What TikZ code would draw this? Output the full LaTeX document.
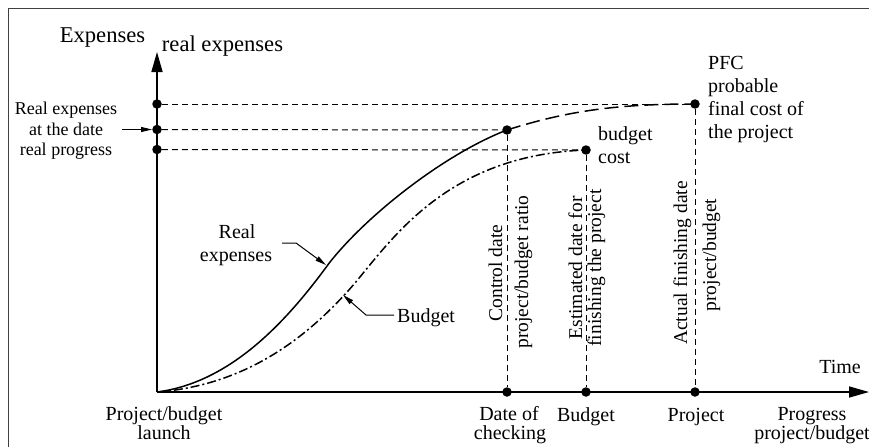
\documentclass[tikz,border=0pt]{standalone}
\usepackage{fontspec}
\setmainfont{Liberation Serif}
\usetikzlibrary{arrows.meta}
\begin{document}
\begin{tikzpicture}[x=1pt,y=-1pt,
  lbl/.style={inner sep=0pt, anchor=base, font=\fontsize{20}{24}\selectfont},
  lbls/.style={lbl, font=\fontsize{18}{22}\selectfont},
  lblt/.style={lbl, font=\fontsize{22.6}{26}\selectfont},
  rlbl/.style={lbl, rotate=90, font=\fontsize{19.5}{23}\selectfont},
  dot/.style={circle, fill, inner sep=0pt, minimum size=9.5pt},
  guide/.style={dash pattern=on 6pt off 4pt, line width=1pt},
  axis/.style={line width=1.6pt, -{Triangle[length=20pt,width=11pt]}},
  leader/.style={line width=1pt, -{Triangle[length=11pt,width=5pt]}},
  realcurve/.style={line width=1.5pt},
  realdash/.style={line width=1.5pt, dash pattern=on 14pt off 6pt},
  budgetcurve/.style={line width=1.5pt, dash pattern=on 9pt off 3pt on 2pt off 3pt},
  frame/.style={line width=1.5pt, black!75}
]
\useasboundingbox (0,0) rectangle (869,447);
\draw[frame] (8.5,447) -- (8.5,8.5) -- (869,8.5);

% axes
\coordinate (O) at (157,392);
\coordinate (ytop) at (157,52);
\coordinate (xend) at (869,392);
\draw[axis] (O) -- (ytop);
\draw[axis] (O) -- (xend);

% dots
\node[dot] (ya) at (157,104) {};
\node[dot] (yb) at (157,129.5) {};
\node[dot] (yc) at (157,149.5) {};
\node[dot] (ctrl) at (507,130) {};
\node[dot] (bcost) at (586,150) {};
\node[dot] (pfc) at (695,104) {};
\node[dot] (xctrl) at (507,392) {};
\node[dot] (xbud) at (586,392) {};
\node[dot] (xproj) at (695,392) {};

% guide lines
\draw[guide] (ya) -- (pfc);
\draw[guide] (yb) -- (ctrl);
\draw[guide] (yc) -- (bcost);
\draw[guide] (ctrl) -- (xctrl);
\draw[guide] (bcost) -- (xbud);
\draw[guide] (pfc) -- (xproj);

% curves
\draw[realcurve] (O) .. controls (235,382) and (292,314) .. (330,262)
                     .. controls (370,212) and (447,153) .. (ctrl.center);
\draw[realdash] (ctrl.center) .. controls (570,110) and (620,104) .. (pfc.center);
\draw[budgetcurve] (O) .. controls (250,385) and (312,333) .. (355,283)
                       .. controls (395,235) and (450,155) .. (bcost.center);

% texts
\node[lblt] (expenses) at (102.5,42) {Expenses};
\node[lblt] (realexp) at (222.5,51) {real expenses};
\node[lbls] (le1) at (66,114) {Real expenses};
\node[lbls] (le2) at (66,135) {at the date};
\node[lbls] (le3) at (66,155) {real progress};
\node[lbl, anchor=base west] (p1) at (708,69) {PFC};
\node[lbl, anchor=base west] (p2) at (708,92) {probable};
\node[lbl, anchor=base west] (p3) at (708,115) {final cost of};
\node[lbl, anchor=base west] (p4) at (708,138) {the project};
\node[lbl, anchor=base west] (b1) at (598,140) {budget};
\node[lbl, anchor=base west] (b2) at (598,163) {cost};
\node[lbl] (re1) at (237,238) {Real};
\node[lbl] (re2) at (236,261) {expenses};
\node[lbl, anchor=base west] (budlbl) at (397,322) {Budget};
\node[lbl] (time) at (840,373) {Time};

\node[lbl] (l1) at (164,420) {Project/budget};
\node[lbl] (l2) at (164,439) {launch};
\node[lbl] (d1) at (509,420) {Date of};
\node[lbl] (d2) at (510,439) {checking};
\node[lbl] (bb) at (586,421) {Budget};
\node[lbl] (pp) at (696,421) {Project};
\node[lbl] (g1) at (812,420) {Progress};
\node[lbl] (g2) at (812,439) {project/budget};

\node[rlbl] (r1) at (502,273) {Control date};
\node[rlbl] (r2) at (528,272) {project/budget ratio};
\node[rlbl] (r3) at (582,268) {Estimated date for};
\node[rlbl] (r4) at (601,268) {finishing the project};
\node[rlbl] (r5) at (687,263) {Actual finishing date};
\node[rlbl] (r6) at (716,255) {project/budget};

% leaders
\coordinate (lstart) at (122,129.5);
\draw[leader] (lstart) -- (yb);
\coordinate (rs) at (282,243);
\coordinate (rk) at (296,243);
\coordinate (rt) at (326,265);
\draw[leader] (rs) -- (rk) -- (rt);
\coordinate (bs) at (394,315);
\coordinate (bk) at (366,315);
\coordinate (bt) at (343,295);
\draw[leader] (bs) -- (bk) -- (bt);
\end{tikzpicture}
\end{document}
